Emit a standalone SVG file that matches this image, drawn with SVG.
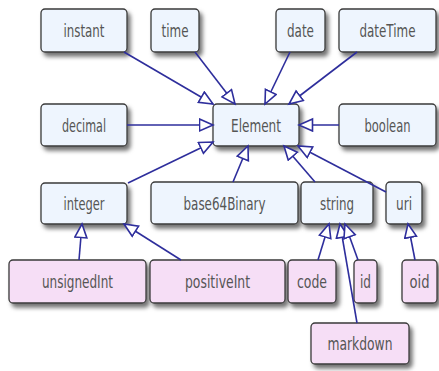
<svg xmlns="http://www.w3.org/2000/svg" width="439" height="371" viewBox="0 0 439 371">
<style>
.box{stroke:#3a3a3a;stroke-width:1.3;filter:url(#sh)}
.blue{fill:#eef5fe}
.pink{fill:#f6def6}
text{font-family:"DejaVu Sans Condensed","DejaVu Sans",sans-serif;font-size:17.5px;fill:#555;text-anchor:middle}
.c line{stroke:#2e2e9c;stroke-width:1.6;marker-end:url(#tri)}
</style>
<defs>
<filter id="sh" x="-20%" y="-20%" width="150%" height="160%">
<feDropShadow dx="3" dy="4" stdDeviation="2" flood-color="#000" flood-opacity="0.55"/>
</filter>
<marker id="tri" markerUnits="userSpaceOnUse" markerWidth="18" markerHeight="16" refX="14.5" refY="7" orient="auto" viewBox="0 0 18 16">
<path d="M1,1 L14.5,7 L1,13 z" fill="#fff" stroke="#2e2e9c" stroke-width="1.6"/>
</marker>
</defs>
<g id="instant"><rect class="box blue" x="41" y="9" width="86" height="43" rx="4"/><text x="84" y="37" textLength="41" lengthAdjust="spacingAndGlyphs">instant</text></g>
<g id="time"><rect class="box blue" x="151" y="9" width="48" height="43" rx="4"/><text x="175" y="37" textLength="27" lengthAdjust="spacingAndGlyphs">time</text></g>
<g id="date"><rect class="box blue" x="276" y="9" width="49" height="43" rx="4"/><text x="300.5" y="37" textLength="27" lengthAdjust="spacingAndGlyphs">date</text></g>
<g id="dateTime"><rect class="box blue" x="339" y="9" width="97" height="43" rx="4"/><text x="387.5" y="37" textLength="56" lengthAdjust="spacingAndGlyphs">dateTime</text></g>
<g id="decimal"><rect class="box blue" x="41" y="104" width="86" height="42" rx="4"/><text x="84" y="131.5" textLength="44" lengthAdjust="spacingAndGlyphs">decimal</text></g>
<g id="Element"><rect class="box blue" x="213" y="104" width="86" height="42" rx="4"/><text x="256" y="131.5" textLength="50" lengthAdjust="spacingAndGlyphs">Element</text></g>
<g id="boolean"><rect class="box blue" x="339" y="104" width="97" height="42" rx="4"/><text x="387.5" y="131.5" textLength="46" lengthAdjust="spacingAndGlyphs">boolean</text></g>
<g id="integer"><rect class="box blue" x="41" y="183" width="86" height="41" rx="4"/><text x="84" y="210" textLength="41" lengthAdjust="spacingAndGlyphs">integer</text></g>
<g id="base64Binary"><rect class="box blue" x="151" y="182" width="147" height="42" rx="4"/><text x="224.5" y="209.5" textLength="82" lengthAdjust="spacingAndGlyphs">base64Binary</text></g>
<g id="string"><rect class="box blue" x="301" y="182" width="72" height="42" rx="4"/><text x="337" y="209.5" textLength="34" lengthAdjust="spacingAndGlyphs">string</text></g>
<g id="uri"><rect class="box blue" x="386" y="182" width="36" height="42" rx="4"/><text x="404" y="209.5" textLength="16" lengthAdjust="spacingAndGlyphs">uri</text></g>
<g id="unsignedInt"><rect class="box pink" x="9" y="260" width="137" height="43" rx="4"/><text x="77.5" y="288" textLength="71" lengthAdjust="spacingAndGlyphs">unsignedInt</text></g>
<g id="positiveInt"><rect class="box pink" x="150" y="260" width="135" height="43" rx="4"/><text x="217.5" y="288" textLength="65" lengthAdjust="spacingAndGlyphs">positiveInt</text></g>
<g id="code"><rect class="box pink" x="288" y="260" width="48" height="43" rx="4"/><text x="312" y="288" textLength="30" lengthAdjust="spacingAndGlyphs">code</text></g>
<g id="id"><rect class="box pink" x="354" y="260" width="23" height="43" rx="4"/><text x="365.5" y="288" textLength="11" lengthAdjust="spacingAndGlyphs">id</text></g>
<g id="oid"><rect class="box pink" x="402" y="260" width="35" height="43" rx="4"/><text x="419.5" y="288" textLength="20" lengthAdjust="spacingAndGlyphs">oid</text></g>
<g id="markdown"><rect class="box pink" x="311" y="323" width="98" height="41" rx="4"/><text x="360" y="350" textLength="65" lengthAdjust="spacingAndGlyphs">markdown</text></g>
<g id="connectors" class="c">
<line x1="124" y1="52" x2="213" y2="104"/>
<line x1="195" y1="52" x2="235" y2="104"/>
<line x1="290" y1="52" x2="265" y2="104"/>
<line x1="357" y1="52" x2="289" y2="104"/>
<line x1="127" y1="125" x2="213" y2="125"/>
<line x1="339" y1="125" x2="299" y2="125"/>
<line x1="128" y1="183" x2="213" y2="142"/>
<line x1="233" y1="182" x2="248" y2="146"/>
<line x1="315" y1="182" x2="284" y2="146"/>
<line x1="386" y1="192" x2="298" y2="146"/>
<line x1="79" y1="260" x2="82" y2="224"/>
<line x1="181" y1="260" x2="124" y2="224"/>
<line x1="318" y1="260" x2="329" y2="224"/>
<line x1="357" y1="323" x2="340" y2="224"/>
<line x1="358" y1="260" x2="345" y2="224"/>
<line x1="415" y1="260" x2="408" y2="224"/>
</g>
</svg>
